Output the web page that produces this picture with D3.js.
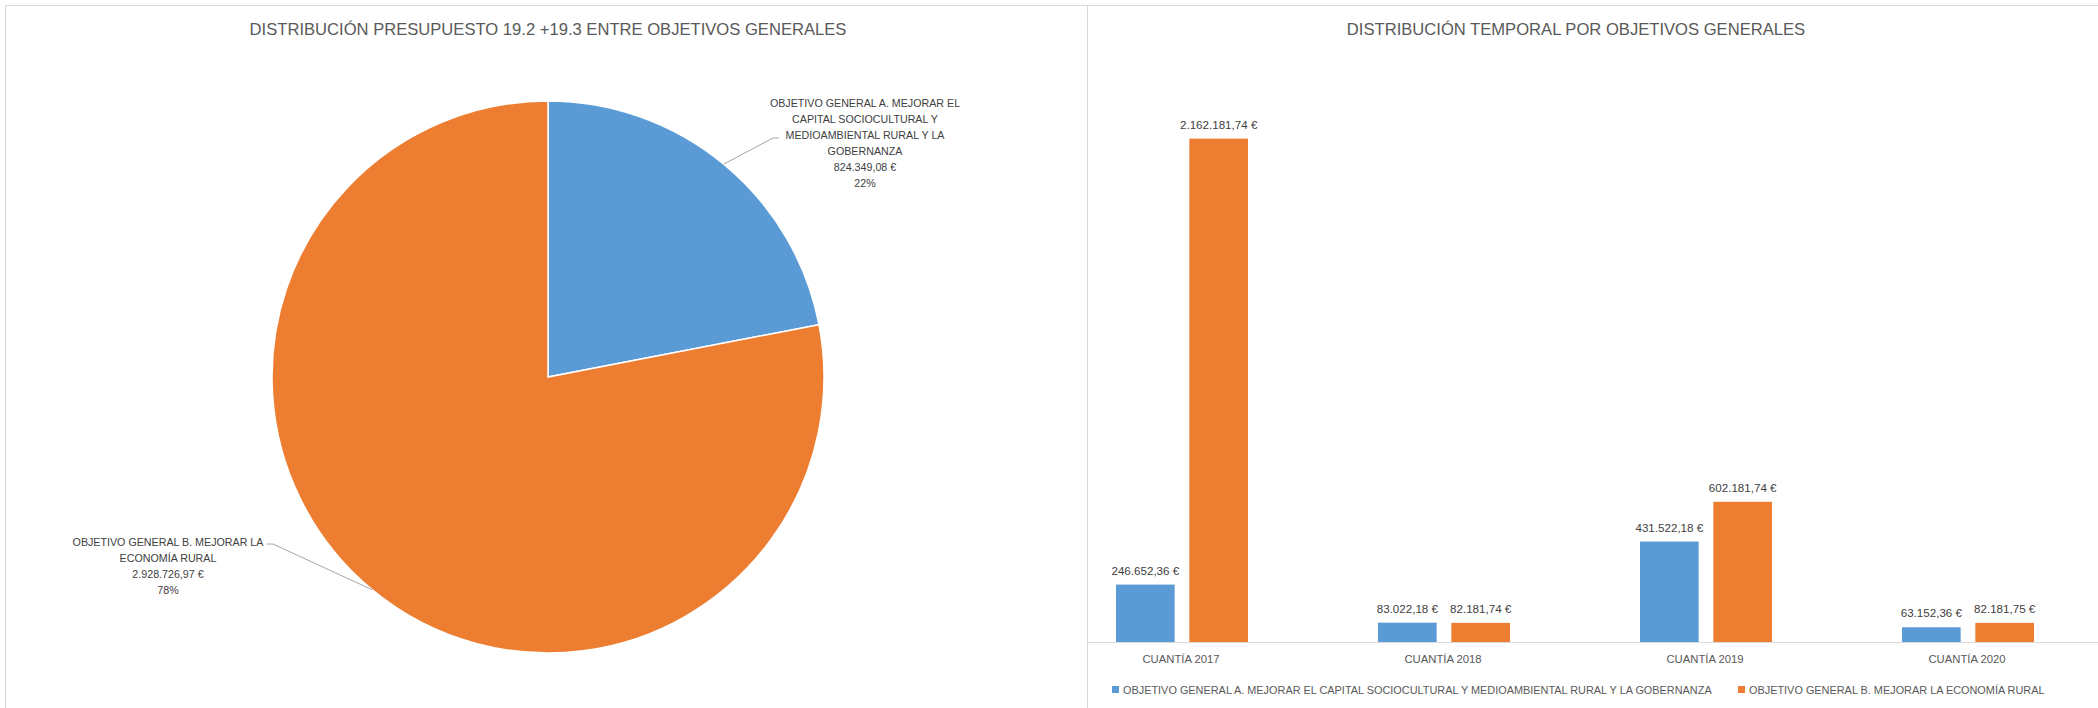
<!DOCTYPE html>
<html>
<head>
<meta charset="utf-8">
<script src="https://cdn.jsdelivr.net/npm/d3@7"></script>
<style>
  body { margin: 0; background: #fff; }
  text { font-family: "Liberation Sans", Arial, sans-serif; }
</style>
</head>
<body>
<div id="chart"></div>
<script>
// pie data
var pieNames = ["OBJETIVO GENERAL A. MEJORAR EL CAPITAL SOCIOCULTURAL Y MEDIOAMBIENTAL RURAL Y LA GOBERNANZA",
                "OBJETIVO GENERAL B. MEJORAR LA ECONOMÍA RURAL"];
var pieLines = [["OBJETIVO GENERAL A. MEJORAR EL", "CAPITAL SOCIOCULTURAL Y", "MEDIOAMBIENTAL RURAL Y LA", "GOBERNANZA"],
                ["OBJETIVO GENERAL B. MEJORAR LA", "ECONOMÍA RURAL"]];
var pieValues = [824349.08, 2928726.97];

// bar data
var years = ["CUANTÍA 2017", "CUANTÍA 2018", "CUANTÍA 2019", "CUANTÍA 2020"];
var seriesA = [246652.36, 83022.18, 431522.18, 63152.36];
var seriesB = [2162181.74, 82181.74, 602181.74, 82181.75];

var colors = ["#5B9BD5", "#ED7D31"];

var width = 2098, height = 708;

var es = d3.formatLocale({ decimal: ",", thousands: ".", grouping: [3], currency: ["", " €"] });
var euro = es.format("$,.2f");

var svg = d3.select("#chart").append("svg")
            .attr("width", width)
            .attr("height", height);

// panel borders
var border = svg.append("g").attr("stroke", "#d9d9d9").attr("fill", "none");
border.append("line").attr("x1", 5).attr("x2", width).attr("y1", 5.5).attr("y2", 5.5);
border.append("line").attr("x1", 5.5).attr("x2", 5.5).attr("y1", 5).attr("y2", height);
border.append("line").attr("x1", 1087.5).attr("x2", 1087.5).attr("y1", 5).attr("y2", height);

// ---------- pie ----------
var cx = 548, cy = 377, r = 276;
var total = d3.sum(pieValues);

svg.append("text")
   .attr("x", cx).attr("y", 35)
   .attr("text-anchor", "middle")
   .attr("fill", "#595959")
   .style("font-size", "16.6px")
   .text("DISTRIBUCIÓN PRESUPUESTO 19.2 +19.3 ENTRE OBJETIVOS GENERALES");

var pie = d3.pie().sort(null).value(d => d);
var arcs = pie(pieValues);
var arc = d3.arc().innerRadius(0).outerRadius(r);

var gp = svg.append("g").attr("transform", "translate(" + cx + "," + cy + ")");
gp.selectAll("path")
  .data(arcs)
  .enter().append("path")
    .attr("d", arc)
    .attr("fill", (d, i) => colors[i])
    .attr("stroke", "#fff")
    .attr("stroke-width", 1.5);

// labels: [center x, first baseline, elbow x, elbow y, line end x]
var labelPos = [
  { x: 865, y: 107, ex: 773, ey: 138, lx: 779 },
  { x: 168, y: 546, ex: 273, ey: 544, lx: 267 }
];

arcs.forEach(function(a, i) {
  var mid = (a.startAngle + a.endAngle) / 2;
  var px = cx + Math.sin(mid) * r, py = cy - Math.cos(mid) * r;
  var p = labelPos[i];
  svg.append("polyline")
     .attr("points", [[px, py], [p.ex, p.ey], [p.lx, p.ey]].map(q => q.join(",")).join(" "))
     .attr("fill", "none")
     .attr("stroke", "#a6a6a6")
     .attr("stroke-width", 1);
  var lines = pieLines[i].concat([euro(pieValues[i]), Math.round(pieValues[i] / total * 100) + "%"]);
  var t = svg.append("text")
     .attr("text-anchor", "middle")
     .attr("fill", "#404040")
     .style("font-size", "10.7px");
  lines.forEach(function(s, j) {
    t.append("tspan").attr("x", p.x).attr("y", p.y + j * 15.9).text(s);
  });
});

// ---------- bars ----------
svg.append("text")
   .attr("x", 1576).attr("y", 35)
   .attr("text-anchor", "middle")
   .attr("fill", "#595959")
   .style("font-size", "16.6px")
   .text("DISTRIBUCIÓN TEMPORAL POR OBJETIVOS GENERALES");

var x0 = d3.scaleBand().domain(years).range([1050, 2098]);
var x1 = d3.scaleBand().domain([0, 1]).range([66, 198]).paddingInner(0.2);
var y = d3.scaleLinear().domain([0, 2500000]).range([642, 60]);

var series = [seriesA, seriesB];

var groups = svg.append("g").selectAll("g")
  .data(years)
  .enter().append("g")
    .attr("transform", d => "translate(" + x0(d) + ",0)");

groups.selectAll("rect")
  .data((d, i) => series.map((s, k) => ({ k: k, v: s[i] })))
  .enter().append("rect")
    .attr("x", d => x1(d.k))
    .attr("width", x1.bandwidth())
    .attr("y", d => y(d.v))
    .attr("height", d => y(0) - y(d.v))
    .attr("fill", d => colors[d.k]);

groups.selectAll("text.val")
  .data((d, i) => series.map((s, k) => ({ k: k, v: s[i] })))
  .enter().append("text")
    .attr("class", "val")
    .attr("x", d => x1(d.k) + x1.bandwidth() / 2)
    .attr("y", d => y(d.v) - 10)
    .attr("text-anchor", "middle")
    .attr("fill", "#404040")
    .style("font-size", "11.6px")
    .text(d => euro(d.v));

// category axis
var xAxis = svg.append("g")
   .attr("transform", "translate(0," + y(0) + ")")
   .call(d3.axisBottom(x0).tickSize(0).tickPadding(13));
xAxis.select(".domain").attr("stroke", "#d9d9d9").attr("d", "M1088,0.5H2098");
xAxis.selectAll("text")
   .attr("fill", "#595959")
   .style("font-size", "11.3px")
   .style("font-family", "'Liberation Sans', Arial, sans-serif");

// legend
var legendX = [1112, 1738];
var lg = svg.append("g").selectAll("g")
  .data(pieNames)
  .enter().append("g")
    .attr("transform", (d, i) => "translate(" + legendX[i] + ",686)");
lg.append("rect")
  .attr("width", 7).attr("height", 7)
  .attr("fill", (d, i) => colors[i]);
lg.append("text")
  .attr("x", 11).attr("y", 8)
  .attr("fill", "#595959")
  .style("font-size", "10.9px")
  .text(d => d);
</script>
</body>
</html>
